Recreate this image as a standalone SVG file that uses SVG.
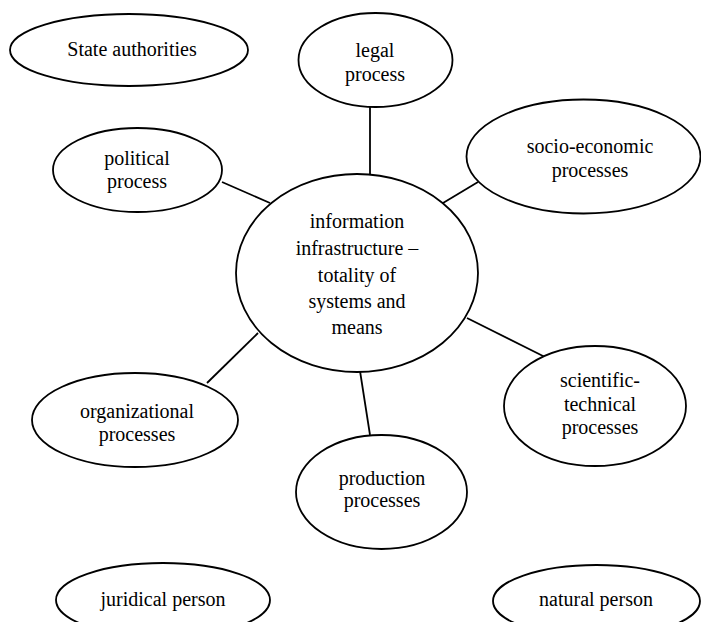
<svg xmlns="http://www.w3.org/2000/svg" width="701" height="622" viewBox="0 0 701 622">
<style>
.n ellipse{fill:#fff;stroke:#000;stroke-width:1.8}
.n text{font-family:"Liberation Serif","Times New Roman",serif;font-size:20px;fill:#000;text-anchor:middle}
.c line{stroke:#000;stroke-width:1.8}
</style>
<rect width="701" height="622" fill="#fff"/>
<g class="c" id="connectors">
<line x1="370" y1="107" x2="370" y2="174"/>
<line x1="478" y1="182" x2="443" y2="203"/>
<line x1="222" y1="182" x2="270" y2="203"/>
<line x1="207" y1="383" x2="258" y2="333"/>
<line x1="467" y1="318" x2="545" y2="357"/>
<line x1="360" y1="371" x2="370" y2="435"/>
</g>
<g class="n" id="state-authorities">
<ellipse cx="129" cy="50" rx="119" ry="36"/>
<text x="132" y="56">State authorities</text>
</g>
<g class="n" id="legal-process">
<ellipse cx="375.5" cy="60" rx="77" ry="47"/>
<text x="375" y="57">legal</text>
<text x="375" y="81">process</text>
</g>
<g class="n" id="socio-economic">
<ellipse cx="583.5" cy="156.5" rx="117" ry="57"/>
<text x="590" y="153">socio-economic</text>
<text x="590" y="177">processes</text>
</g>
<g class="n" id="political-process">
<ellipse cx="137.5" cy="170" rx="84.5" ry="42"/>
<text x="137" y="165">political</text>
<text x="137" y="188">process</text>
</g>
<g class="n" id="information-infrastructure">
<ellipse cx="357" cy="273" rx="121" ry="99"/>
<text x="357" y="228">information</text>
<text x="357" y="255">infrastructure –</text>
<text x="357" y="282">totality of</text>
<text x="357" y="308">systems and</text>
<text x="357" y="334">means</text>
</g>
<g class="n" id="organizational">
<ellipse cx="135" cy="420" rx="103" ry="47"/>
<text x="137" y="418">organizational</text>
<text x="137" y="441">processes</text>
</g>
<g class="n" id="scientific-technical">
<ellipse cx="595" cy="406" rx="91" ry="60"/>
<text x="600" y="387">scientific-</text>
<text x="600" y="411">technical</text>
<text x="600" y="434">processes</text>
</g>
<g class="n" id="production">
<ellipse cx="381.5" cy="492" rx="85.5" ry="57"/>
<text x="382" y="485">production</text>
<text x="382" y="507">processes</text>
</g>
<g class="n" id="juridical-person">
<ellipse cx="163" cy="600" rx="107" ry="37"/>
<text x="163" y="606">juridical person</text>
</g>
<g class="n" id="natural-person">
<ellipse cx="596.5" cy="601" rx="103.5" ry="36"/>
<text x="596" y="606">natural person</text>
</g>
</svg>
